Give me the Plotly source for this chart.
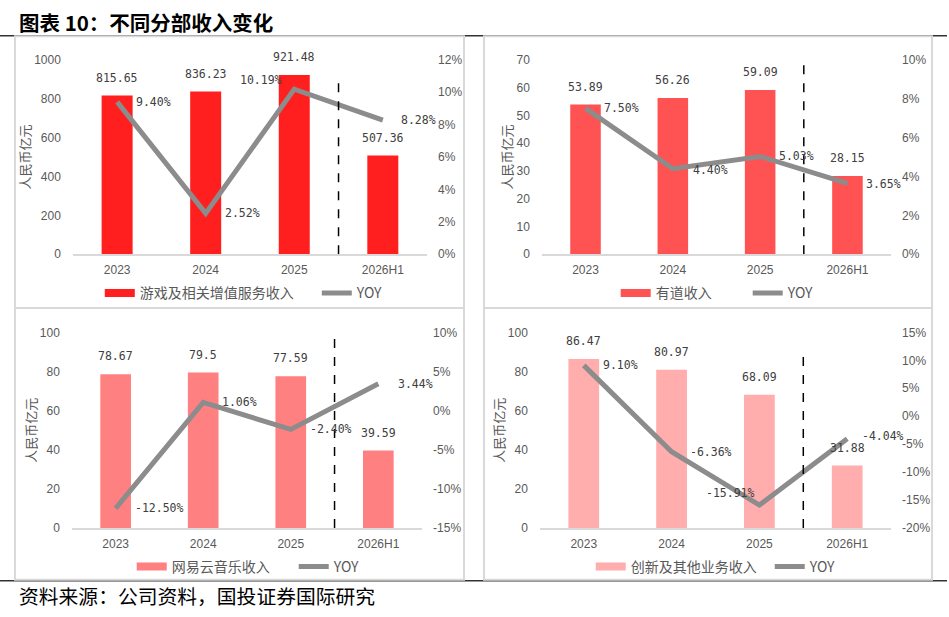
import plotly.graph_objects as go

# ---------------- data ----------------
categories = ["2023", "2024", "2025", "2026H1"]

games_rev = [815.65, 836.23, 921.48, 507.36]
games_yoy = [9.40, 2.52, 10.19, 8.28]
youdao_rev = [53.89, 56.26, 59.09, 28.15]
youdao_yoy = [7.50, 4.40, 5.03, 3.65]
music_rev = [78.67, 79.5, 77.59, 39.59]
music_yoy = [-12.50, 1.06, -2.40, 3.44]
other_rev = [86.47, 80.97, 68.09, 31.88]
other_yoy = [9.10, -6.36, -15.91, -4.04]

series_names = ["游戏及相关增值服务收入", "有道收入", "网易云音乐收入", "创新及其他业务收入"]
yoy_name = "YOY"

left_ticks = [
    [0, 200, 400, 600, 800, 1000],
    [0, 10, 20, 30, 40, 50, 60, 70],
    [0, 20, 40, 60, 80, 100],
    [0, 20, 40, 60, 80, 100],
]
right_ticks = [
    [0, 2, 4, 6, 8, 10, 12],
    [0, 2, 4, 6, 8, 10],
    [-15, -10, -5, 0, 5, 10],
    [-20, -15, -10, -5, 0, 5, 10, 15],
]

title_text = "图表 10：不同分部收入变化"
source_text = "资料来源：公司资料，国投证券国际研究"
y_title = "人民币亿元"

revs = [games_rev, youdao_rev, music_rev, other_rev]
yoys = [games_yoy, youdao_yoy, music_yoy, other_yoy]

# ---------------- style / layout ----------------
W, H = 949, 617
bar_colors = ["#FF1F1F", "#FF5252", "#FF8080", "#FFADAD"]
line_color = "#8C8C8C"
tick_color = "#595959"
label_color = "#404040"
border_color = "#D9D9D9"

# plot areas in pixels: (x0, x1, y0, y1)
plot_px = [(73, 428, 54, 253), (543, 893, 54, 253), (72, 423, 333, 533), (541, 893, 333, 533)]
box_px = [(15, 465, 30, 308), (485, 934, 30, 308), (15, 465, 308, 586), (485, 934, 308, 586)]
# legend: (first item left px, centre y px, entry width px)
legend_px = [(100, 293, 172), (617, 293, 87), (132, 573, 117), (592, 573, 134)]
sep_top = [884, 69.3, 98.5, 89]
label_offsets = [
    [("left", 17, 0), ("left", 17, 0), ("right", -10, 9), ("left", 16, 0)],
    [("left", 16, 0), ("left", 18, -1), ("left", 17, 0), ("left", 17, -1)],
    [("left", 17, 0), ("left", 17, 0), ("left", 17, 0), ("left", 18, 0)],
    [("left", 17, 0), ("left", 16, 0), ("right", -2, 12), ("left", 13, 3)],
]

tick_font = dict(family="Liberation Sans, Arial, sans-serif", size=12, color=tick_color)
label_font = dict(family="DejaVu Sans Mono, monospace", size=11.5, color=label_color)
cjk = "Noto Sans CJK SC"

fig = go.Figure()
layout = dict(
    width=W, height=H,
    margin=dict(l=0, r=0, t=0, b=0),
    paper_bgcolor="white", plot_bgcolor="white",
    bargap=0.65,
    annotations=[], shapes=[],
)

# frame lines
for yy in (29.5, 587):
    layout["shapes"].append(dict(type="line", xref="paper", yref="paper",
                                 x0=0, x1=1, y0=1 - yy / H, y1=1 - yy / H,
                                 line=dict(color="#333333", width=1.5), layer="below"))
for (bx0, bx1, by0, by1) in box_px:
    layout["shapes"].append(dict(type="rect", xref="paper", yref="paper",
                                 x0=bx0 / W, x1=bx1 / W, y0=1 - by1 / H, y1=1 - by0 / H,
                                 line=dict(color=border_color, width=2), layer="below"))

for i in range(4):
    xk = "x" if i == 0 else f"x{i + 1}"
    xak = "xaxis" if i == 0 else f"xaxis{i + 1}"
    li, ri = 2 * i + 1, 2 * i + 2
    yl = "y" if li == 1 else f"y{li}"
    yr = f"y{ri}"
    yalk = "yaxis" if li == 1 else f"yaxis{li}"
    yark = f"yaxis{ri}"
    px0, px1, py0, py1 = plot_px[i]
    lg = "legend" if i == 0 else f"legend{i + 1}"

    layout[xak] = dict(domain=[px0 / W, px1 / W], anchor=yl, type="category",
                       range=[-0.5, len(categories) - 0.5], showline=True, linecolor=border_color,
                       linewidth=1.5, showgrid=False, zeroline=False, ticks="", tickfont=tick_font,
                       ticklabelstandoff=4)
    lt = left_ticks[i]
    layout[yalk] = dict(domain=[1 - py1 / H, 1 - py0 / H], anchor=xk,
                        range=[lt[0], lt[-1]], tickvals=lt, ticktext=[str(v) for v in lt],
                        showgrid=False, zeroline=False, showline=False, ticks="",
                        tickfont=tick_font, ticklabelstandoff=11,
                        title=dict(text=y_title, font=dict(family=cjk, size=13, color=tick_color),
                                   standoff=0))
    rt = right_ticks[i]
    layout[yark] = dict(overlaying=yl, anchor=xk, side="right",
                        range=[rt[0], rt[-1]], tickvals=rt, ticktext=[f"{v}%" for v in rt],
                        showgrid=False, zeroline=False, showline=False, ticks="",
                        tickfont=tick_font, ticklabelstandoff=10)

    lx, ly, ew = legend_px[i]
    layout[lg] = dict(orientation="h", xanchor="left", x=lx / W, yanchor="middle", y=1 - ly / H,
                      bgcolor="rgba(0,0,0,0)", font=dict(family=cjk, size=14, color=tick_color),
                      entrywidthmode="pixels", entrywidth=ew,
                      itemclick=False, itemdoubleclick=False)

    fig.add_trace(go.Bar(x=categories, y=revs[i], marker=dict(color=bar_colors[i], line=dict(width=0)),
                         xaxis=xk, yaxis=yl, showlegend=False, hoverinfo="skip"))
    fig.add_trace(go.Scatter(x=[None], y=[None], mode="lines", name=series_names[i],
                             line=dict(color=bar_colors[i], width=8),
                             xaxis=xk, yaxis=yl, legend=lg, hoverinfo="skip"))
    fig.add_trace(go.Scatter(x=categories, y=yoys[i], mode="lines", name=yoy_name,
                             line=dict(color=line_color, width=5),
                             xaxis=xk, yaxis=yr, legend=lg, hoverinfo="skip"))

    for k, v in enumerate(revs[i]):
        layout["annotations"].append(dict(x=k, y=v, xref=xk, yref=yl, text=format(v, "g"),
                                          showarrow=False, xanchor="center", yanchor="middle",
                                          yshift=18, font=label_font))
    for k, (v, (anc, dx, dy)) in enumerate(zip(yoys[i], label_offsets[i])):
        layout["annotations"].append(dict(x=k, y=v, xref=xk, yref=yr, text=f"{v:.2f}%",
                                          showarrow=False, xanchor=anc, yanchor="middle",
                                          xshift=dx, yshift=dy, font=label_font))

    layout["shapes"].append(dict(type="line", xref=xk, yref=yl,
                                 x0=len(categories) - 1.5, x1=len(categories) - 1.5,
                                 y0=0, y1=sep_top[i],
                                 line=dict(color="black", width=1.5, dash="dash")))

layout["annotations"].append(dict(x=17 / W, y=1 - 15 / H, xref="paper", yref="paper",
                                  text=f"<b>{title_text}</b>", showarrow=False,
                                  xanchor="left", yanchor="middle",
                                  font=dict(family=cjk, size=20.5, color="black")))
layout["annotations"].append(dict(x=17 / W, y=1 - 602 / H, xref="paper", yref="paper",
                                  text=source_text, showarrow=False,
                                  xanchor="left", yanchor="middle",
                                  font=dict(family=cjk, size=19.8, color="black")))

fig.update_layout(**layout)
fig.write_html("out.html", config={"displayModeBar": False},
               post_script="document.body.style.margin='0px';")
